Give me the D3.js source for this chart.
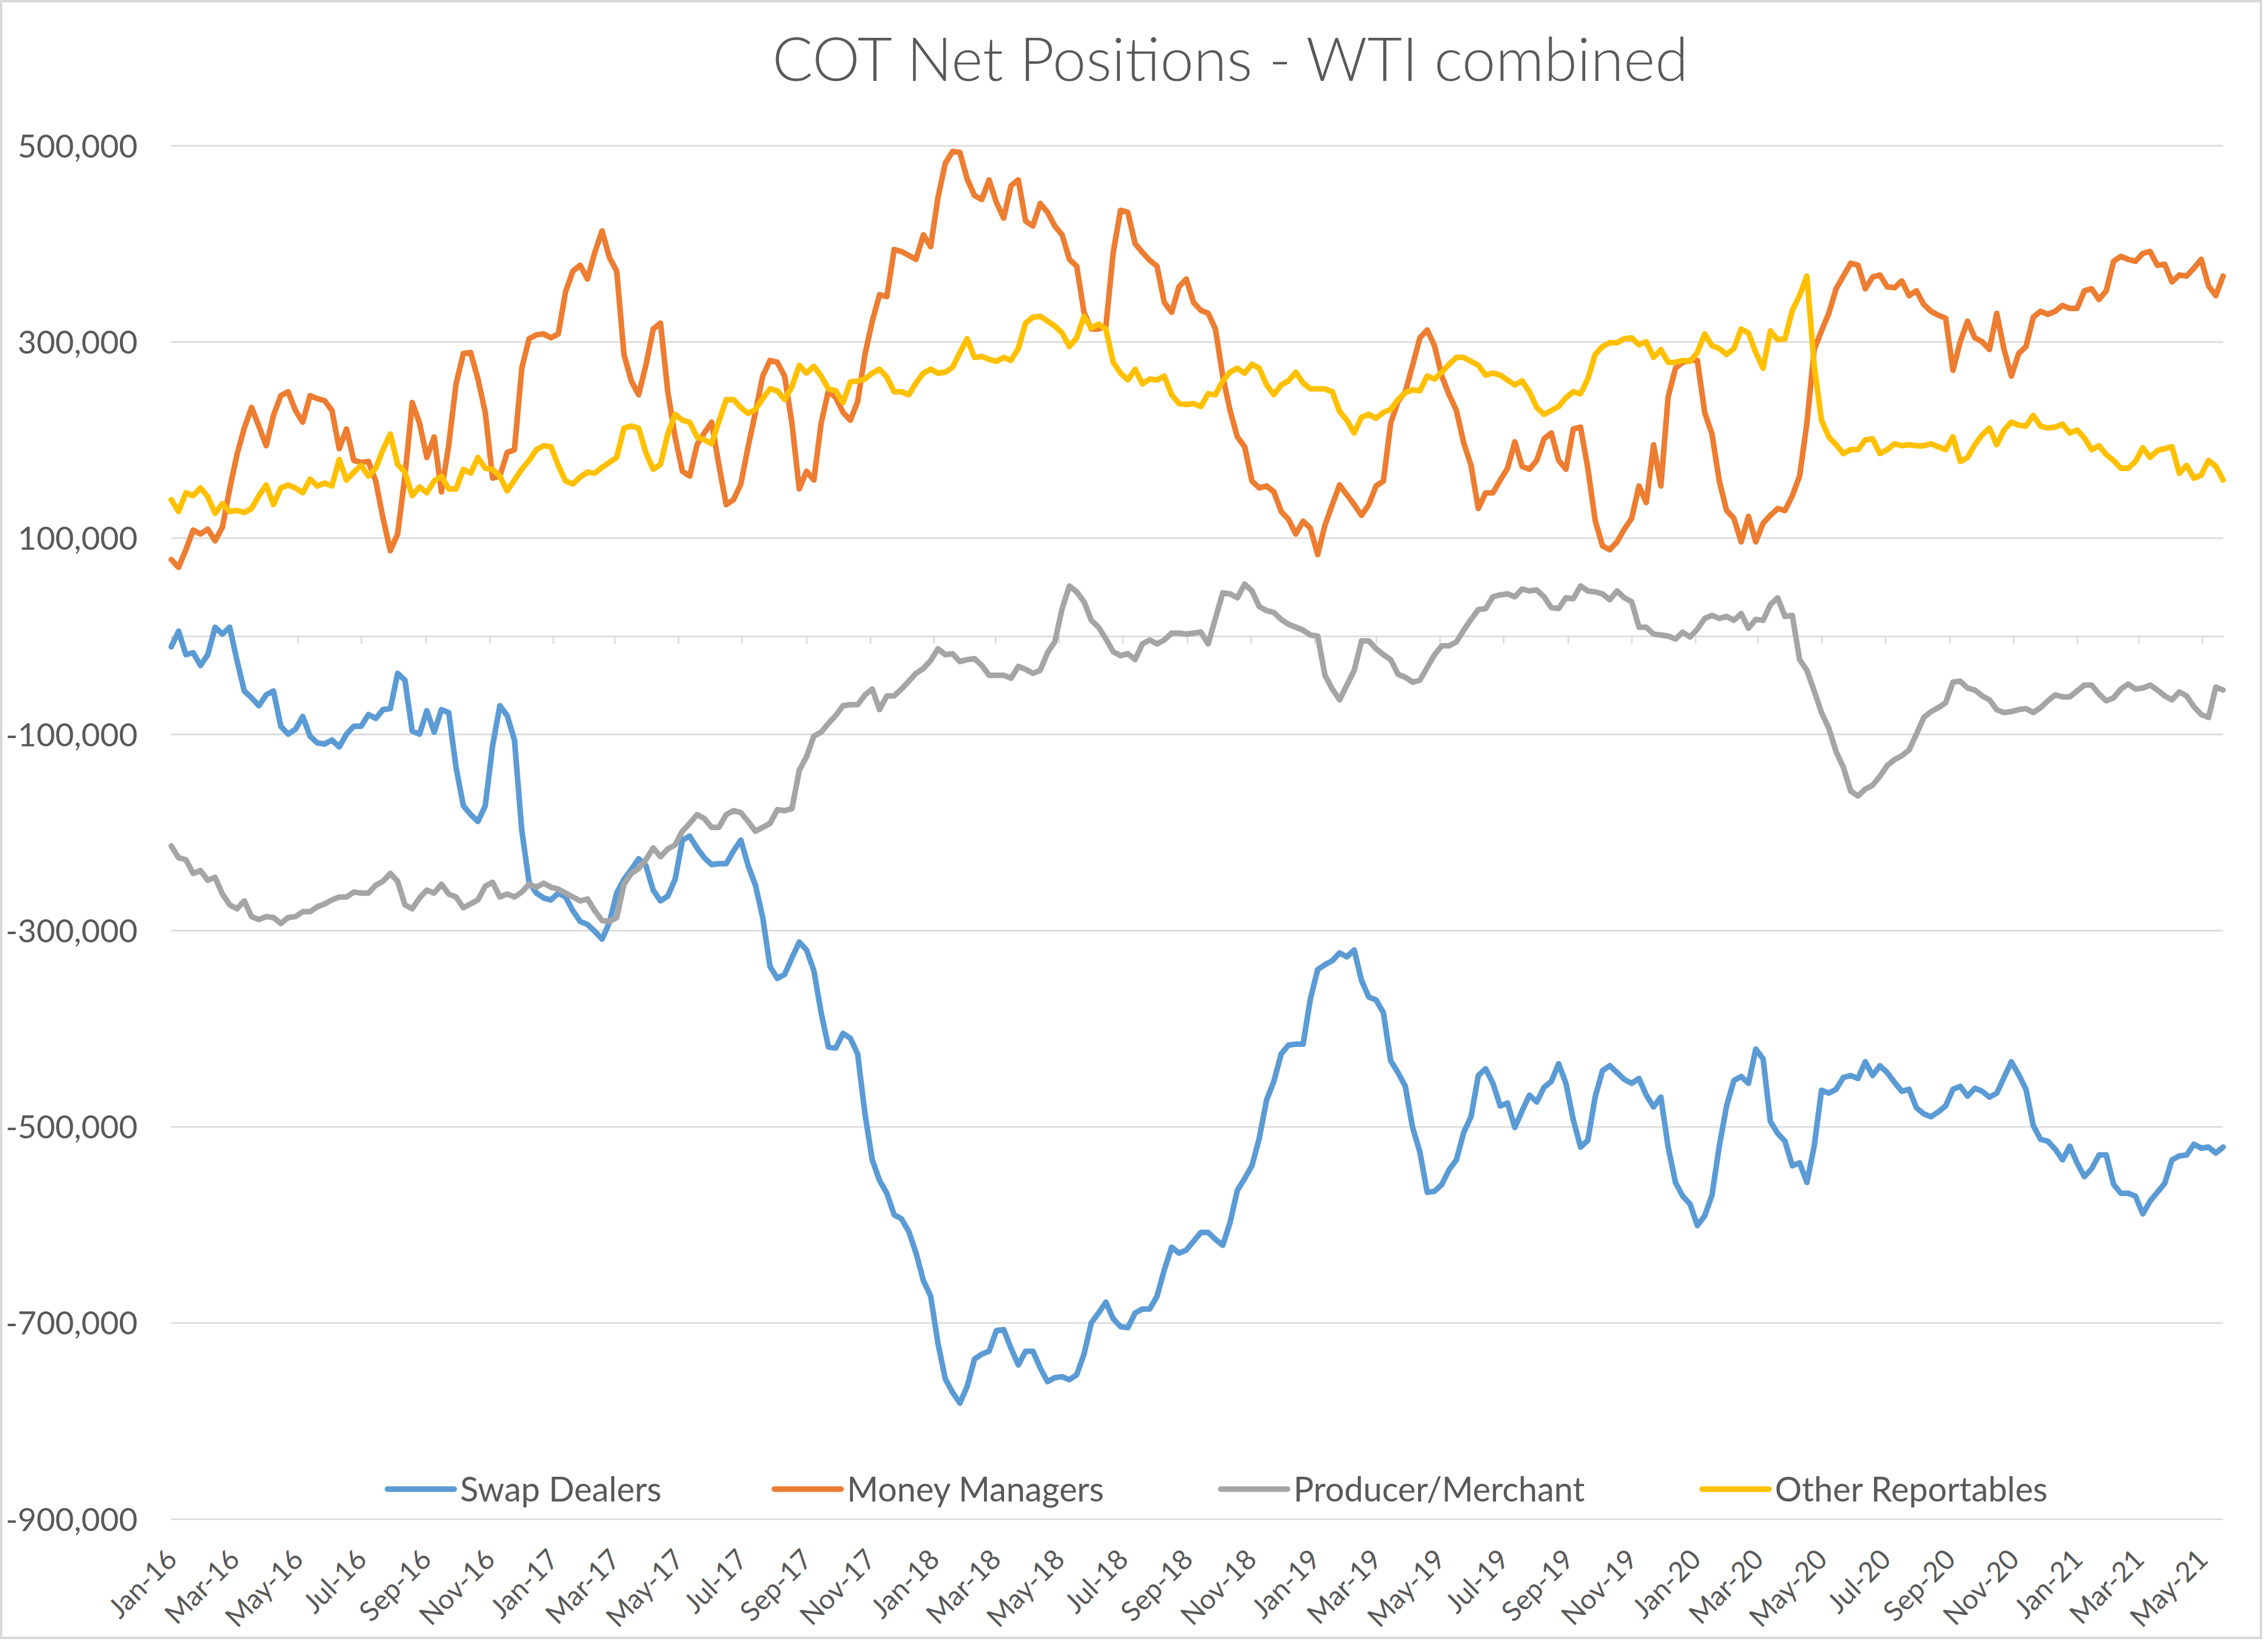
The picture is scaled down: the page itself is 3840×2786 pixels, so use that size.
<!DOCTYPE html>
<html><head><meta charset="utf-8">
<script src="https://cdn.jsdelivr.net/npm/d3@7"></script>
<style>
html,body{margin:0;padding:0;background:#fff;}
svg{display:block;}
</style></head>
<body>
<svg id="chart" width="3840" height="2786"></svg>
<script>
// ---------------- DATA ----------------
const chartTitle = "COT Net Positions - WTI combined";
const seriesNames = ["Swap Dealers", "Money Managers", "Producer/Merchant", "Other Reportables"];
const seriesColors = ["#5B9BD5", "#ED7D31", "#A5A5A5", "#FFC000"];
// weekly report dates (Tuesdays)
const firstWeek = "2016-01-05";
const lastWeek = "2021-05-25";
const xTickLabels = ["Jan-16","Mar-16","May-16","Jul-16","Sep-16","Nov-16",
  "Jan-17","Mar-17","May-17","Jul-17","Sep-17","Nov-17",
  "Jan-18","Mar-18","May-18","Jul-18","Sep-18","Nov-18",
  "Jan-19","Mar-19","May-19","Jul-19","Sep-19","Nov-19",
  "Jan-20","Mar-20","May-20","Jul-20","Sep-20","Nov-20",
  "Jan-21","Mar-21","May-21"];
const yTicks = [-900, -700, -500, -300, -100, 100, 300, 500]; // thousands of contracts

// net positions, thousands of contracts
const swapDealers = [
 -11,5,-19,-17,-30,-19,9,2,9,-25,
 -56,-63,-71,-60,-56,-92,-100,-95,-82,-102,
 -109,-110,-106,-113,-100,-92,-92,-80,-84,-75,
 -74,-38,-45,-97,-100,-76,-98,-75,-78,-134,
 -173,-182,-189,-173,-112,-71,-81,-106,-198,-251,
 -262,-267,-269,-262,-266,-280,-291,-294,-301,-309,
 -292,-262,-248,-238,-227,-234,-259,-270,-265,-248,
 -208,-204,-216,-226,-233,-232,-232,-219,-208,-234,
 -254,-287,-337,-349,-345,-328,-312,-320,-341,-384,
 -419,-420,-405,-410,-426,-487,-534,-555,-568,-590,
 -594,-607,-629,-657,-673,-721,-757,-771,-782,-765,
 -737,-732,-729,-708,-707,-726,-743,-729,-729,-746,
 -760,-756,-755,-758,-753,-732,-700,-690,-679,-696,
 -704,-705,-690,-686,-686,-673,-646,-623,-629,-626,
 -617,-608,-608,-615,-621,-598,-565,-553,-540,-512,
 -473,-454,-426,-417,-416,-416,-370,-340,-335,-331,
 -323,-327,-320,-351,-368,-371,-384,-433,-445,-459,
 -501,-526,-567,-566,-559,-544,-534,-506,-490,-448,
 -441,-456,-479,-476,-501,-484,-468,-475,-460,-454,
 -436,-456,-493,-521,-514,-470,-443,-438,-445,-452,
 -456,-451,-468,-480,-470,-521,-557,-571,-579,-601,
 -591,-570,-520,-479,-453,-449,-456,-421,-431,-495,
 -507,-515,-540,-537,-557,-520,-463,-466,-462,-450,
 -448,-451,-434,-448,-438,-445,-455,-464,-462,-481,
 -487,-490,-485,-479,-462,-459,-469,-461,-464,-470,
 -466,-450,-434,-447,-462,-499,-513,-515,-523,-534,
 -520,-537,-551,-543,-529,-529,-559,-568,-568,-571,
 -589,-576,-567,-558,-534,-530,-529,-518,-522,-521,
 -527,-521
];
const moneyManagers = [
 78,70,88,108,104,109,97,111,150,185,
 212,233,214,194,225,245,249,230,218,245,
 242,240,230,191,211,179,177,178,158,120,
 87,104,163,238,217,182,203,147,195,257,
 288,289,262,228,161,163,187,190,273,303,
 307,308,304,308,351,372,378,364,391,413,
 386,372,287,260,246,276,313,319,249,203,
 168,163,195,207,218,174,134,139,155,193,
 228,265,281,279,265,217,150,168,159,217,
 250,243,228,220,239,287,321,348,346,394,
 392,388,384,409,397,447,482,494,493,466,
 449,445,465,442,426,459,465,423,418,441,
 432,418,409,384,377,330,313,313,316,391,
 434,432,400,391,383,377,340,330,356,364,
 340,332,329,313,265,230,203,193,158,151,
 153,147,127,119,104,117,110,83,113,134,
 154,144,134,123,134,153,158,217,239,249,
 276,304,312,296,265,246,230,197,174,130,
 146,146,159,171,198,173,170,179,201,207,
 179,170,211,213,171,118,92,88,96,109,
 120,153,136,195,153,244,273,279,281,281,
 228,206,158,128,120,96,122,96,115,123,
 130,128,143,163,217,292,311,329,354,367,
 380,378,354,366,368,356,355,362,347,352,
 338,331,327,324,271,300,321,304,300,292,
 329,292,265,288,295,325,331,328,331,337,
 334,334,352,354,343,352,382,387,384,382,
 390,392,378,379,361,368,367,375,384,357,
 347,367
];
const producerMerchant = [
 -214,-226,-228,-242,-239,-249,-246,-263,-274,-278,
 -270,-286,-289,-286,-287,-293,-287,-286,-281,-281,
 -276,-273,-269,-266,-266,-261,-262,-262,-254,-250,
 -242,-250,-274,-278,-267,-259,-262,-253,-263,-266,
 -277,-273,-269,-255,-251,-266,-263,-266,-261,-253,
 -256,-252,-256,-258,-262,-266,-270,-268,-280,-290,
 -291,-287,-253,-242,-237,-228,-216,-225,-217,-213,
 -199,-191,-182,-186,-195,-195,-182,-178,-180,-189,
 -199,-195,-191,-177,-178,-176,-137,-123,-102,-98,
 -89,-81,-71,-70,-70,-60,-54,-75,-61,-61,
 -54,-46,-38,-33,-25,-13,-19,-18,-26,-24,
 -23,-30,-40,-40,-40,-43,-31,-34,-38,-35,
 -17,-6,28,51,45,35,16,9,-3,-16,
 -20,-18,-24,-8,-4,-8,-4,3,3,2,
 3,4,-8,18,44,43,39,53,46,30,
 26,24,17,12,9,6,1,0,-40,-54,
 -65,-50,-35,-5,-5,-13,-19,-24,-39,-42,
 -47,-45,-32,-19,-10,-10,-6,6,17,27,
 28,40,42,43,40,48,46,47,40,29,
 28,39,38,51,46,45,43,37,46,39,
 35,9,9,2,1,0,-3,4,-1,7,
 18,21,18,20,16,23,8,17,16,32,
 39,20,21,-24,-35,-56,-78,-94,-118,-134,
 -158,-163,-156,-152,-143,-132,-126,-122,-116,-100,
 -83,-77,-73,-68,-47,-46,-53,-55,-61,-65,
 -75,-78,-77,-75,-74,-78,-73,-66,-60,-62,
 -62,-56,-50,-50,-59,-66,-63,-54,-49,-54,
 -53,-50,-55,-61,-65,-57,-61,-72,-80,-83,
 -52,-55
];
const otherReportables = [
 139,127,146,143,151,142,125,135,127,128,
 126,130,143,154,134,151,154,151,146,160,
 153,156,153,180,159,167,174,163,171,190,
 206,175,167,143,152,146,158,163,150,150,
 170,166,182,171,170,163,148,159,170,179,
 190,194,193,174,158,155,162,167,166,172,
 177,182,212,214,212,187,170,175,206,226,
 220,218,203,200,196,219,241,241,233,227,
 231,242,252,250,241,254,276,268,275,265,
 252,250,238,259,260,262,268,272,264,249,
 249,246,258,268,272,268,269,274,289,303,
 284,285,282,280,284,281,293,319,325,326,
 321,316,309,295,304,326,314,318,313,279,
 268,261,272,257,262,261,265,246,237,236,
 237,234,247,246,260,269,273,268,277,273,
 256,246,256,260,269,258,252,252,252,249,
 229,220,207,223,226,222,228,231,241,248,
 251,250,265,262,269,277,284,284,280,276,
 266,268,266,261,256,260,249,233,226,230,
 234,243,249,247,262,287,295,299,299,303,
 304,297,300,284,292,279,279,281,280,289,
 308,296,293,287,293,313,309,289,273,311,
 302,303,332,347,367,276,220,203,195,186,
 190,190,200,201,186,190,196,194,195,194,
 194,196,193,190,203,178,182,195,205,212,
 195,210,218,215,214,225,214,212,213,216,
 207,210,202,190,194,185,179,171,171,178,
 192,182,189,191,193,166,174,161,164,179,
 173,159
];
const seriesValues = [swapDealers, moneyManagers, producerMerchant, otherReportables];

// ---------------- LAYOUT ----------------
const W = 3840, H = 2786;
const P = {left: 290, right: 3764, top: 246.5, bottom: 2572.5};
const FONT = "Lato, 'Open Sans', 'Noto Sans', sans-serif";
const TEXT = "#595959";
const GRID = "#D9D9D9";

const svg = d3.select("#chart");
svg.append("rect").attr("x", 0).attr("y", 0).attr("width", W).attr("height", H).attr("fill", "#fff");
svg.append("rect").attr("x", 2).attr("y", 2).attr("width", W - 14).attr("height", H - 14)
  .attr("fill", "none").attr("stroke", GRID).attr("stroke-width", 4);

const parse = d3.utcParse("%Y-%m-%d");
const dates = d3.utcTuesday.range(parse(firstWeek), d3.utcDay.offset(parse(lastWeek), 1));
const tickDates = xTickLabels.map((l, i) => d3.utcMonth.offset(dates[0], 2 * i));

const x = d3.scaleUtc().domain([dates[0], dates[dates.length - 1]]).range([P.left, P.right]);
const y = d3.scaleLinear().domain([-900, 500]).range([P.bottom, P.top]);

// font fitting helper: size so that a sample string has the target width
function fitSize(sample, target, weight) {
  const t = svg.append("text").attr("font-family", FONT).attr("font-size", 100)
    .attr("font-weight", weight || 400).text(sample);
  const w = t.node().getComputedTextLength();
  t.remove();
  return 100 * target / w;
}
const labelSize = fitSize("500,000", 203);
const xLabelSize = labelSize * 0.86;
const legendSize = fitSize(seriesNames.join(""), 1730);
const titleSize = fitSize(chartTitle, 1551, 300);
const fmt = d => d3.format(",")(d * 1000).replace("\u2212", "-");

// gridlines
svg.append("g").attr("transform", `translate(${P.left},0)`)
  .call(d3.axisLeft(y).tickValues(yTicks).tickSize(-(P.right - P.left)).tickFormat(""))
  .call(g => g.select(".domain").remove())
  .call(g => g.selectAll("line").attr("stroke", GRID).attr("stroke-width", 2.6));

// y labels
svg.append("g").attr("transform", `translate(233,0)`)
  .call(d3.axisLeft(y).tickValues(yTicks).tickSize(0).tickPadding(0).tickFormat(fmt))
  .call(g => g.select(".domain").remove())
  .call(g => g.selectAll("text").attr("font-family", FONT).attr("font-size", labelSize)
    .attr("fill", TEXT).attr("dy", "0.36em"));

// horizontal axis at zero with tick marks
svg.append("g").attr("transform", `translate(0,${y(0)})`)
  .call(d3.axisBottom(x).tickValues(tickDates).tickSize(13).tickSizeOuter(0).tickFormat(""))
  .call(g => g.select(".domain").attr("stroke", GRID).attr("stroke-width", 2.6))
  .call(g => g.selectAll("line").attr("stroke", GRID).attr("stroke-width", 2.6));

// x labels (low position, rotated)
svg.append("g").attr("transform", `translate(0,2632)`)
  .call(d3.axisBottom(x).tickValues(tickDates).tickSize(0).tickFormat((d, i) => xTickLabels[i]))
  .call(g => g.select(".domain").remove())
  .call(g => g.selectAll("text")
    .attr("font-family", FONT).attr("font-size", xLabelSize).attr("fill", TEXT)
    .attr("x", 0).attr("y", 0).attr("dy", "0.36em")
    .attr("text-anchor", "end").attr("transform", "rotate(-45)"));

// series lines
const line = d3.line().x((d, i) => x(dates[i])).y(d => y(d));
svg.append("g").selectAll("path").data(seriesValues).join("path")
  .attr("d", line)
  .attr("fill", "none")
  .attr("stroke", (d, i) => seriesColors[i])
  .attr("stroke-width", 9.5)
  .attr("stroke-linejoin", "round")
  .attr("stroke-linecap", "round");

// title
svg.append("text").attr("x", 2083).attr("y", 137).attr("text-anchor", "middle")
  .attr("font-family", FONT).attr("font-weight", 300).attr("font-size", titleSize)
  .attr("fill", TEXT).text(chartTitle);

// legend
const legendX = [656, 1311, 2067, 2882];
const legendY = 2522;
const lg = svg.append("g").selectAll("g").data(seriesNames).join("g")
  .attr("transform", (d, i) => `translate(${legendX[i]},${legendY})`);
lg.append("line").attr("x1", 0).attr("x2", 113).attr("y1", 0).attr("y2", 0)
  .attr("stroke", (d, i) => seriesColors[i]).attr("stroke-width", 9.5).attr("stroke-linecap", "round");
lg.append("text").attr("x", 123).attr("y", 0).attr("dy", "0.36em")
  .attr("font-family", FONT).attr("font-size", legendSize).attr("fill", TEXT).text(d => d);
</script>
</body></html>
